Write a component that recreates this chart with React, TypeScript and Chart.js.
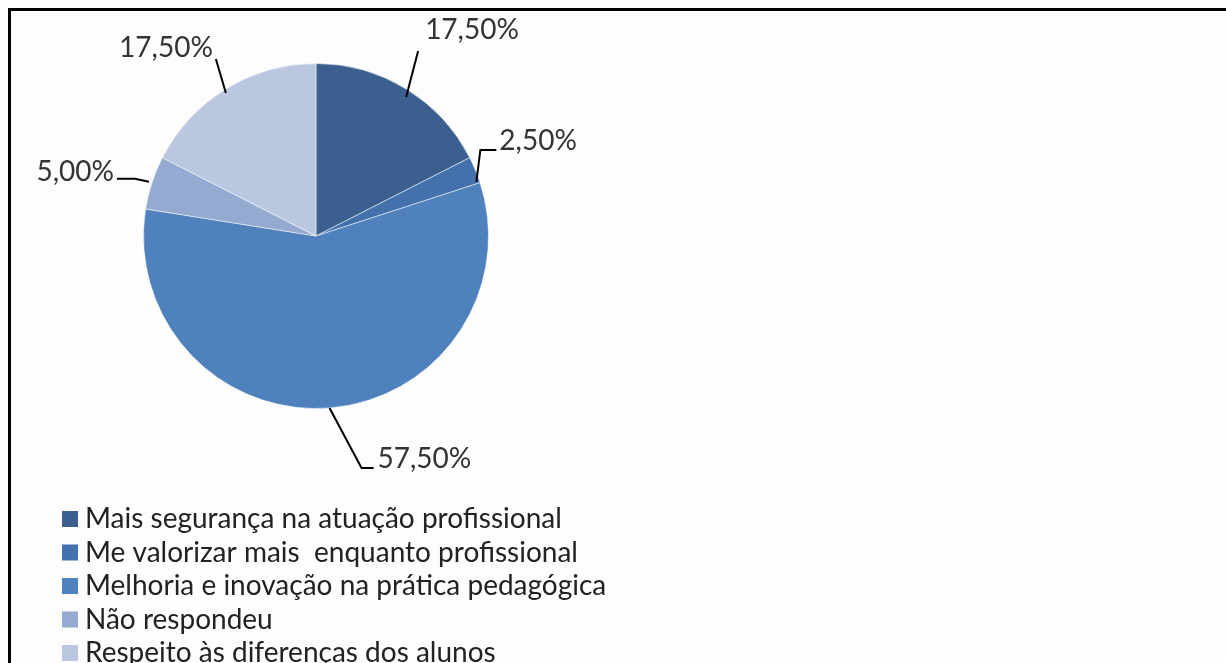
import React, { useEffect, useRef } from "react";
import { Chart, registerables } from "chart.js";

Chart.register(...registerables);

const categories = [
  "Mais segurança na atuação profissional",
  "Me valorizar mais  enquanto profissional",
  "Melhoria e inovação na prática pedagógica",
  "Não respondeu",
  "Respeito às diferenças dos alunos",
];
const values = [17.5, 2.5, 57.5, 5.0, 17.5];
const valueLabels = ["17,50%", "2,50%", "57,50%", "5,00%", "17,50%"];
const colors = ["#3B5F8E", "#4371AB", "#4F81BD", "#95AAD0", "#B9C7E1"];

// leader line geometry relative to the arc's outer mid point: path points, text anchor, alignment
const leaders = [
  { path: [[0, 8], [12, -38]], text: [19, -59], align: "left" },
  { path: [[1, 12], [5, -20], [21, -20]], text: [24, -29], align: "left" },
  { path: [[0, 0], [32, 60], [44, 60]], text: [48, 51], align: "left" },
  { path: [[-3, -1], [-17, -4], [-35, -4]], text: [-38, -11], align: "right" },
  { path: [[0, 4], [-10, -30]], text: [-13, -41], align: "right" },
];

const FONT = "Lato, 'Open Sans', sans-serif";

const framePlugin = {
  id: "frame",
  beforeDraw(chart: any) {
    const ctx = chart.ctx;
    ctx.save();
    ctx.fillStyle = "#fdfdfd";
    ctx.fillRect(0, 0, chart.width, chart.height);
    ctx.strokeStyle = "#000";
    ctx.lineWidth = 3;
    ctx.beginPath();
    ctx.moveTo(9.5, chart.height + 5);
    ctx.lineTo(9.5, 9.5);
    ctx.lineTo(chart.width + 5, 9.5);
    ctx.stroke();
    ctx.restore();
  },
  afterDraw(chart: any) {
    const ctx = chart.ctx;
    const meta = chart.getDatasetMeta(0);
    ctx.save();
    meta.data.forEach((arc: any, i: number) => {
      const p = arc.getProps(["x", "y", "startAngle", "endAngle", "outerRadius"], true);
      const mid = (p.startAngle + p.endAngle) / 2;
      const ex = p.x + Math.cos(mid) * p.outerRadius;
      const ey = p.y + Math.sin(mid) * p.outerRadius;
      const L = leaders[i];
      ctx.strokeStyle = "#000";
      ctx.lineWidth = 2;
      ctx.beginPath();
      L.path.forEach((pt, k) => {
        if (k === 0) ctx.moveTo(ex + pt[0], ey + pt[1]);
        else ctx.lineTo(ex + pt[0], ey + pt[1]);
      });
      ctx.stroke();
      ctx.fillStyle = "#333";
      ctx.font = `28px ${FONT}`;
      ctx.textAlign = L.align;
      ctx.textBaseline = "middle";
      ctx.fillText(valueLabels[i], ex + L.text[0], ey + L.text[1]);
    });
    // legend
    const lx = 62;
    const ly0 = 519;
    const step = 33.5;
    chart.data.labels.forEach((lab: string, i: number) => {
      const cy = ly0 + i * step;
      ctx.fillStyle = colors[i];
      ctx.fillRect(lx, cy - 8, 16, 16);
      ctx.fillStyle = "#222";
      ctx.font = `28px ${FONT}`;
      ctx.textAlign = "left";
      ctx.textBaseline = "middle";
      ctx.fillText(lab, lx + 23, cy);
    });
    ctx.restore();
  },
};

export default function App() {
  const ref = useRef<HTMLCanvasElement>(null);
  useEffect(() => {
    document.body.style.margin = "0";
    const chart = new Chart(ref.current!, {
      type: "pie",
      data: {
        labels: categories,
        datasets: [
          {
            data: values,
            backgroundColor: colors,
            borderColor: "rgba(255,255,255,0.5)",
            borderWidth: 1,
          },
        ],
      },
      options: {
        responsive: false,
        animation: false,
        layout: { padding: { left: 143, top: 63, right: 737, bottom: 254 } },
        plugins: { legend: { display: false }, tooltip: { enabled: false } },
      },
      plugins: [framePlugin],
    } as any);
    return () => chart.destroy();
  }, []);
  return (
    <div style={{ width: 1226, height: 663 }}>
      <canvas ref={ref} width={1226} height={663} style={{ display: "block" }} />
    </div>
  );
}
